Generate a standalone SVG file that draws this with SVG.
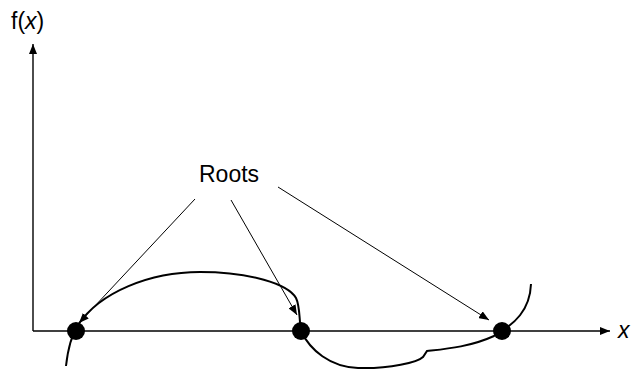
<svg xmlns="http://www.w3.org/2000/svg" width="632" height="370" viewBox="0 0 632 370">
<style>
text{font-family:"Liberation Sans",Arial,sans-serif;font-size:23px;fill:#000}
.ax{stroke:#000;stroke-width:1.4;fill:none}
.ptr{stroke:#000;stroke-width:1;fill:none}
.crv{stroke:#000;stroke-width:2;fill:none}
.dot{fill:#000}
</style>
<defs>
<marker id="ah" viewBox="0 0 10 8" refX="10" refY="4" markerWidth="10" markerHeight="8" markerUnits="userSpaceOnUse" orient="auto">
<path d="M0,0 L10,4 L0,8 Z" fill="#000"/>
</marker>
</defs>
<g id="axes">
<line class="ax" x1="33" y1="331" x2="33" y2="44" marker-end="url(#ah)"/>
<line class="ax" x1="33" y1="331" x2="610" y2="331" marker-end="url(#ah)"/>
<text x="11" y="29">f(<tspan font-style="italic">x</tspan>)</text>
<text x="618" y="338" font-style="italic">x</text>
</g>
<g id="curve">
<path class="crv" d="M66,366 C68,348 71,336 78,325 C100,292 150,272 200,272 C250,272 288,284 296,298 C300,306 299,318 301,331 C310,350 330,367 358,368 C390,369 418,362 423,357 L427,351 C445,349 470,347 494,336 C515,324 530,310 531,284"/>
</g>
<g id="roots">
<text x="199" y="182">Roots</text>
</g>
<g id="connectors">
<line class="ptr" x1="195" y1="199" x2="79" y2="323" marker-end="url(#ah)"/>
<line class="ptr" x1="231" y1="200" x2="297" y2="315" marker-end="url(#ah)"/>
<line class="ptr" x1="278" y1="187" x2="489" y2="320" marker-end="url(#ah)"/>
</g>
<g id="dot1"><circle class="dot" cx="76" cy="331" r="9"/></g>
<g id="dot2"><circle class="dot" cx="301" cy="331" r="9"/></g>
<g id="dot3"><circle class="dot" cx="502" cy="331" r="9"/></g>
</svg>
